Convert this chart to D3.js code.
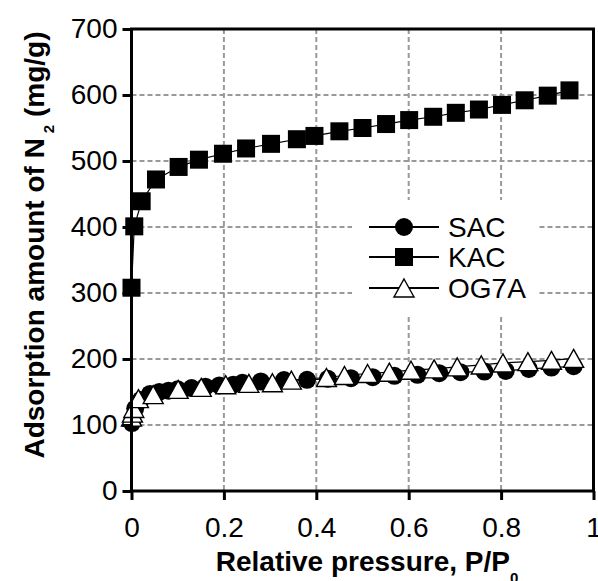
<!DOCTYPE html>
<html>
<head>
<meta charset="utf-8">
<script src="https://cdn.jsdelivr.net/npm/d3@7"></script>
<style>
  html, body { margin: 0; padding: 0; background: #fff; }
  svg { display: block; font-family: Arial, "Liberation Sans", sans-serif; }
</style>
</head>
<body>
<svg id="chart" width="598" height="581"></svg>
<script>
// ---- data ----
const seriesNames = ["SAC", "KAC", "OG7A"];

const sacPressure = [0.001, 0.008, 0.02, 0.04, 0.06, 0.08, 0.10, 0.13, 0.16, 0.19, 0.22, 0.24, 0.28, 0.33, 0.38, 0.425, 0.475, 0.522, 0.569, 0.619, 0.666, 0.712, 0.764, 0.81, 0.86, 0.909, 0.957];
const sacAmount   = [103, 125, 138, 147, 150, 152, 154, 156, 158, 160, 161, 164, 166, 168, 168.5, 170, 171, 172.5, 174.5, 176, 178.5, 180, 181, 182, 185, 187, 189];

const kacPressure = [0.0, 0.006, 0.022, 0.053, 0.102, 0.146, 0.198, 0.248, 0.302, 0.358, 0.396, 0.450, 0.500, 0.551, 0.601, 0.653, 0.702, 0.752, 0.802, 0.851, 0.901, 0.948];
const kacAmount   = [308, 401, 439, 472, 491, 502, 511, 519, 526, 533, 538, 545, 550, 556, 562, 567, 573, 578, 585, 592, 599, 607];

const og7aPressure = [0.0, 0.002, 0.005, 0.015, 0.047, 0.101, 0.151, 0.204, 0.254, 0.305, 0.346, 0.422, 0.461, 0.511, 0.558, 0.605, 0.655, 0.705, 0.757, 0.804, 0.858, 0.909, 0.957];
const og7aAmount   = [112, 118, 125, 140, 146, 154, 157, 161, 163, 164, 168, 172, 175, 178, 180, 183, 185, 188, 191, 194, 196, 198, 201];

const xTicks = [0, 0.2, 0.4, 0.6, 0.8, 1];
const xTickLabels = ["0", "0.2", "0.4", "0.6", "0.8", "1"];
const yTicks = [0, 100, 200, 300, 400, 500, 600, 700];
const xGrid = [0.2, 0.4, 0.6, 0.8];
const yGrid = [100, 200, 300, 400, 500, 600];

// ---- layout ----
const svg = d3.select("#chart");
const pLeft = 131.5, pRight = 593.5, pTop = 29, pBottom = 491;
const x = d3.scaleLinear().domain([0, 1]).range([pLeft, pRight]);
const y = d3.scaleLinear().domain([0, 700]).range([pBottom, pTop]);

// grid
const grid = svg.append("g").attr("stroke", "#999").attr("stroke-width", 2).attr("stroke-dasharray", "5,3");
grid.selectAll("line.gx").data(xGrid).join("line")
  .attr("x1", d => x(d)).attr("x2", d => x(d)).attr("y1", pTop).attr("y2", pBottom);
grid.selectAll("line.gy").data(yGrid).join("line")
  .attr("x1", pLeft).attr("x2", pRight).attr("y1", d => y(d)).attr("y2", d => y(d));

// legend background (covers grid)
svg.append("rect").attr("x", 352).attr("y", 200).attr("width", 186).attr("height", 115).attr("fill", "#fff");

// series
const seriesData = [
  { name: "SAC", shape: "circle", pts: sacPressure.map((p, i) => [p, sacAmount[i]]) },
  { name: "KAC", shape: "square", pts: kacPressure.map((p, i) => [p, kacAmount[i]]) },
  { name: "OG7A", shape: "triangle", pts: og7aPressure.map((p, i) => [p, og7aAmount[i]]) }
];

const line = d3.line().x(d => x(d[0])).y(d => y(d[1]));

function drawMarker(g, shape, cx, cy) {
  if (shape === "circle") {
    g.append("circle").attr("cx", cx).attr("cy", cy).attr("r", 9).attr("fill", "#000");
  } else if (shape === "square") {
    g.append("rect").attr("x", cx - 9).attr("y", cy - 9).attr("width", 18).attr("height", 18).attr("fill", "#000");
  } else {
    const w = 20, h = 18;
    g.append("path")
      .attr("d", `M${cx},${cy - h / 2}L${cx + w / 2},${cy + h / 2}L${cx - w / 2},${cy + h / 2}Z`)
      .attr("fill", "#fff").attr("stroke", "#000").attr("stroke-width", 1.4).attr("stroke-linejoin", "miter");
  }
}

seriesData.forEach(s => {
  const g = svg.append("g");
  g.append("path").datum(s.pts).attr("d", line).attr("fill", "none").attr("stroke", "#000").attr("stroke-width", 1.2);
  s.pts.forEach(d => drawMarker(g, s.shape, x(d[0]), y(d[1])));
});

// frame
svg.append("rect").attr("x", pLeft).attr("y", pTop).attr("width", pRight - pLeft).attr("height", pBottom - pTop)
  .attr("fill", "none").attr("stroke", "#000").attr("stroke-width", 3);

// axes
const xAxis = d3.axisBottom(x).tickValues(xTicks).tickFormat((d, i) => xTickLabels[i]).tickSize(9).tickSizeOuter(0).tickPadding(17);
const gx = svg.append("g").attr("transform", `translate(0,${pBottom})`).call(xAxis);
gx.select(".domain").remove();
gx.selectAll(".tick line").attr("stroke", "#000").attr("stroke-width", 3);
gx.selectAll(".tick text").attr("font-size", 28).attr("fill", "#000").attr("font-family", "Arial, 'Liberation Sans', sans-serif");

const yAxis = d3.axisLeft(y).tickValues(yTicks).tickFormat(d3.format("d")).tickSize(9).tickSizeOuter(0).tickPadding(5);
const gy = svg.append("g").attr("transform", `translate(${pLeft},0)`).call(yAxis);
gy.select(".domain").remove();
gy.selectAll(".tick line").attr("stroke", "#000").attr("stroke-width", 3);
gy.selectAll(".tick text").attr("font-size", 28).attr("fill", "#000").attr("font-family", "Arial, 'Liberation Sans', sans-serif");

// axis titles
const xt = svg.append("text").attr("x", 367).attr("y", 571).attr("text-anchor", "middle")
  .attr("font-size", 28).attr("font-weight", "bold").attr("fill", "#000");
xt.append("tspan").text("Relative pressure, P/P");
xt.append("tspan").attr("font-size", 15).attr("dy", 12).text("0");

const yt = svg.append("text").attr("transform", "translate(44,245) rotate(-90)").attr("text-anchor", "middle")
  .attr("font-size", 28).attr("font-weight", "bold").attr("fill", "#000");
yt.append("tspan").text("Adsorption amount of N");
yt.append("tspan").attr("font-size", 15).attr("dx", 5).attr("dy", 10).text("2");
yt.append("tspan").attr("dy", -10).text(" (mg/g)");

// legend
const legendY = [227, 257, 288];
seriesData.forEach((s, i) => {
  const g = svg.append("g");
  g.append("line").attr("x1", 369).attr("x2", 439).attr("y1", legendY[i]).attr("y2", legendY[i])
    .attr("stroke", "#000").attr("stroke-width", 2);
  drawMarker(g, s.shape, 404, legendY[i]);
  g.append("text").attr("x", 448).attr("y", legendY[i] + 10).attr("font-size", 28).attr("fill", "#000").text(s.name);
});
</script>
</body>
</html>
